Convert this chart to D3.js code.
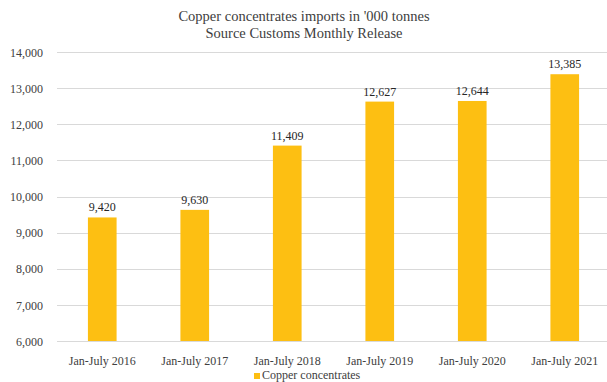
<!DOCTYPE html>
<html><head><meta charset="utf-8">
<script src="https://cdn.jsdelivr.net/npm/d3@7"></script>
<style>body{margin:0;background:#fff}svg{display:block}</style>
</head><body>
<script>
const categories = ["Jan-July 2016","Jan-July 2017","Jan-July 2018","Jan-July 2019","Jan-July 2020","Jan-July 2021"];
const values = [9420, 9630, 11409, 12627, 12644, 13385];
const yTicks = [6000,7000,8000,9000,10000,11000,12000,13000,14000];
const titleLines = ["Copper concentrates imports in '000 tonnes","Source Customs Monthly Release"];
const seriesName = "Copper concentrates";

const W=607,H=382;
const svg=d3.select("body").append("svg").attr("width",W).attr("height",H);
const font="'Liberation Serif','Times New Roman',serif";
const x=d3.scaleBand().domain(categories).range([56,611]).paddingInner(0.69).paddingOuter(0.345);
const y=d3.scaleLinear().domain([6000,14000]).range([341,52]);
const color="#FDBF12";

// gridlines
svg.append("g").selectAll("line").data(yTicks).join("line")
  .attr("x1",57).attr("x2",W).attr("y1",d=>Math.round(y(d))+0.5).attr("y2",d=>Math.round(y(d))+0.5)
  .attr("stroke","#d9d9d9").attr("stroke-width",1);

// y axis labels
const yAxis=d3.axisLeft(y).tickValues(yTicks).tickFormat(d3.format(",")).tickSize(0).tickPadding(0);
const ga=svg.append("g").attr("transform","translate(43,0)").call(yAxis);
ga.select(".domain").remove();
ga.selectAll("text").attr("font-family",font).attr("font-size",12).attr("fill","#404040").attr("dy","0.35em");

// bars
svg.append("g").selectAll("rect").data(values).join("rect")
  .attr("x",(d,i)=>x(categories[i])).attr("width",x.bandwidth())
  .attr("y",d=>y(d)).attr("height",d=>y(6000)-y(d)).attr("fill",color);

// value labels
svg.append("g").selectAll("text").data(values).join("text")
  .attr("x",(d,i)=>x(categories[i])+x.bandwidth()/2).attr("y",d=>y(d)-6)
  .attr("text-anchor","middle").attr("font-family",font).attr("font-size",12).attr("fill","#262626")
  .text(d=>d3.format(",")(d));

// x axis labels
const xAxis=d3.axisBottom(x).tickSize(0).tickPadding(0);
const gx=svg.append("g").attr("transform","translate(0,356)").call(xAxis);
gx.select(".domain").remove();
gx.selectAll("text").attr("font-family",font).attr("font-size",12).attr("fill","#404040").attr("dy","0.71em");

// title
svg.append("g").selectAll("text").data(titleLines).join("text")
  .attr("x",304).attr("y",(d,i)=>21+i*17).attr("text-anchor","middle")
  .attr("font-family",font).attr("font-size",14.5).attr("fill","#404040").text(d=>d);

// legend
const lg=svg.append("g");
lg.append("rect").attr("x",254).attr("y",373).attr("width",6).attr("height",6).attr("fill",color);
lg.append("text").attr("x",262).attr("y",379).attr("font-family",font).attr("font-size",12).attr("fill","#404040").text(seriesName);
</script>
</body></html>
